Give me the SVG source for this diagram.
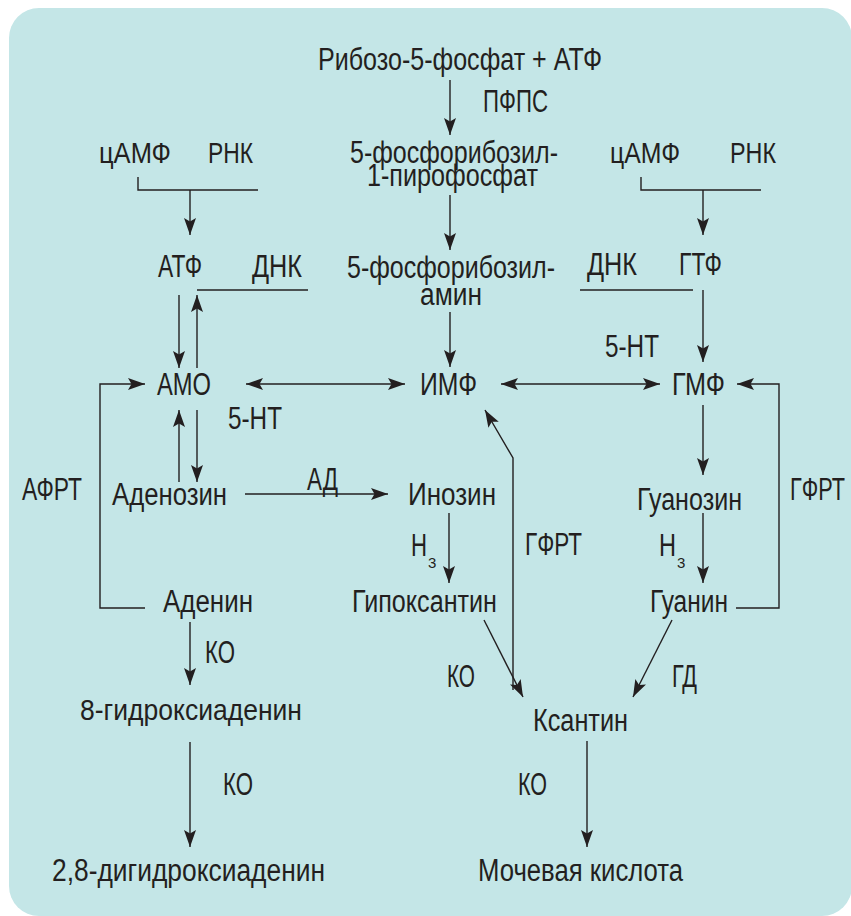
<svg xmlns="http://www.w3.org/2000/svg" width="851" height="916" viewBox="0 0 851 916">
<defs>
<style>
text{font-family:"Liberation Sans",Arial,sans-serif;font-size:31px;fill:#231f20}
.s{font-size:29px}
.sub{font-size:15px}
.c{stroke:#231f20;stroke-width:1.4;fill:none}
</style>
<marker id="ah" viewBox="0 0 17 12" refX="17" refY="6" markerWidth="17" markerHeight="12" orient="auto-start-reverse" markerUnits="userSpaceOnUse"><path d="M0,0 L17,6 L0,12 L3.5,6 z" fill="#231f20"/></marker>
</defs>
<rect x="9" y="8" width="843" height="908" rx="30" fill="#c4e6e7"/>
<g id="connectors">
<line class="c" x1="450" y1="80" x2="450" y2="135" marker-end="url(#ah)"/>
<line class="c" x1="450" y1="195" x2="450" y2="250" marker-end="url(#ah)"/>
<line class="c" x1="450" y1="312" x2="450" y2="367" marker-end="url(#ah)"/>
<path class="c" d="M138,177 V190 H258"/>
<line class="c" x1="190" y1="190" x2="190" y2="235" marker-end="url(#ah)"/>
<path class="c" d="M641,177 V190 H761"/>
<line class="c" x1="703" y1="190" x2="703" y2="235" marker-end="url(#ah)"/>
<line class="c" x1="179" y1="295" x2="179" y2="368" marker-end="url(#ah)"/>
<line class="c" x1="197" y1="368" x2="197" y2="295" marker-end="url(#ah)"/>
<line class="c" x1="197" y1="290" x2="308" y2="290"/>
<line class="c" x1="580" y1="290" x2="693" y2="290"/>
<line class="c" x1="703" y1="290" x2="703" y2="362" marker-end="url(#ah)"/>
<line class="c" x1="246" y1="384" x2="405" y2="384" marker-start="url(#ah)" marker-end="url(#ah)"/>
<line class="c" x1="501" y1="384" x2="660" y2="384" marker-start="url(#ah)" marker-end="url(#ah)"/>
<path class="c" d="M145,608 H100 V384 H145" marker-end="url(#ah)"/>
<path class="c" d="M736,608 H779 V384 H737" marker-end="url(#ah)"/>
<line class="c" x1="197" y1="410" x2="197" y2="482" marker-end="url(#ah)"/>
<line class="c" x1="179" y1="482" x2="179" y2="410" marker-end="url(#ah)"/>
<line class="c" x1="245" y1="494" x2="388" y2="494" marker-end="url(#ah)"/>
<line class="c" x1="449" y1="513" x2="449" y2="583" marker-end="url(#ah)"/>
<path class="c" d="M513,690 V458 L485,410" marker-end="url(#ah)"/>
<line class="c" x1="484" y1="620" x2="523" y2="697" marker-end="url(#ah)"/>
<line class="c" x1="703" y1="405" x2="703" y2="475" marker-end="url(#ah)"/>
<line class="c" x1="703" y1="513" x2="703" y2="583" marker-end="url(#ah)"/>
<line class="c" x1="672" y1="620" x2="633" y2="697" marker-end="url(#ah)"/>
<line class="c" x1="587" y1="741" x2="587" y2="847" marker-end="url(#ah)"/>
<line class="c" x1="190" y1="622" x2="190" y2="685" marker-end="url(#ah)"/>
<line class="c" x1="190" y1="742" x2="190" y2="847" marker-end="url(#ah)"/>
</g>
<g id="n-ribose"><text x="318" y="70" textLength="284" lengthAdjust="spacingAndGlyphs">Рибозо-5-фосфат + АТФ</text></g>
<g id="l-pfps"><text x="483" y="112" textLength="65" lengthAdjust="spacingAndGlyphs">ПФПС</text></g>
<g id="n-camp-l"><text class="s" x="99" y="163" textLength="72" lengthAdjust="spacingAndGlyphs">цАМФ</text></g>
<g id="n-rna-l"><text class="s" x="208" y="163" textLength="45" lengthAdjust="spacingAndGlyphs">РНК</text></g>
<g id="n-prpp"><text x="350" y="163" textLength="208" lengthAdjust="spacingAndGlyphs">5-фосфорибозил-</text><text x="367" y="186" textLength="171" lengthAdjust="spacingAndGlyphs">1-пирофосфат</text></g>
<g id="n-camp-r"><text class="s" x="610" y="163" textLength="70" lengthAdjust="spacingAndGlyphs">цАМФ</text></g>
<g id="n-rna-r"><text class="s" x="730" y="163" textLength="46" lengthAdjust="spacingAndGlyphs">РНК</text></g>
<g id="n-atp"><text x="158" y="277" textLength="44" lengthAdjust="spacingAndGlyphs">АТФ</text></g>
<g id="n-dna-l"><text x="252" y="277" textLength="50" lengthAdjust="spacingAndGlyphs">ДНК</text></g>
<g id="n-pra"><text x="347" y="278" textLength="208" lengthAdjust="spacingAndGlyphs">5-фосфорибозил-</text><text x="420" y="305" textLength="62" lengthAdjust="spacingAndGlyphs">амин</text></g>
<g id="n-dna-r"><text x="587" y="275" textLength="50" lengthAdjust="spacingAndGlyphs">ДНК</text></g>
<g id="n-gtp"><text x="679" y="275" textLength="43" lengthAdjust="spacingAndGlyphs">ГТФ</text></g>
<g id="l-5nt-r"><text x="605" y="357" textLength="54" lengthAdjust="spacingAndGlyphs">5-НТ</text></g>
<g id="n-amp"><text x="157" y="395" textLength="54" lengthAdjust="spacingAndGlyphs">АМО</text></g>
<g id="n-imp"><text x="420" y="395" textLength="57" lengthAdjust="spacingAndGlyphs">ИМФ</text></g>
<g id="n-gmp"><text x="672" y="395" textLength="53" lengthAdjust="spacingAndGlyphs">ГМФ</text></g>
<g id="l-5nt-l"><text x="228" y="429" textLength="54" lengthAdjust="spacingAndGlyphs">5-НТ</text></g>
<g id="l-afrt"><text x="22" y="500" textLength="60" lengthAdjust="spacingAndGlyphs">АФРТ</text></g>
<g id="n-adenosine"><text x="112" y="505" textLength="115" lengthAdjust="spacingAndGlyphs">Аденозин</text></g>
<g id="l-ad"><text x="307" y="490" textLength="31" lengthAdjust="spacingAndGlyphs">АД</text></g>
<g id="n-inosine"><text x="408" y="505" textLength="88" lengthAdjust="spacingAndGlyphs">Инозин</text></g>
<g id="l-gfrt-m"><text x="525" y="555" textLength="57" lengthAdjust="spacingAndGlyphs">ГФРТ</text></g>
<g id="l-h3-l"><text x="411" y="556" textLength="16" lengthAdjust="spacingAndGlyphs">Н</text><text class="sub" x="428" y="568">3</text></g>
<g id="n-guanosine"><text x="637" y="510" textLength="105" lengthAdjust="spacingAndGlyphs">Гуанозин</text></g>
<g id="l-gfrt-r"><text x="790" y="500" textLength="55" lengthAdjust="spacingAndGlyphs">ГФРТ</text></g>
<g id="l-h3-r"><text x="659" y="556" textLength="17" lengthAdjust="spacingAndGlyphs">Н</text><text class="sub" x="677" y="568">3</text></g>
<g id="n-hypoxanthine"><text x="352" y="612" textLength="145" lengthAdjust="spacingAndGlyphs">Гипоксантин</text></g>
<g id="n-adenine"><text x="163" y="612" textLength="90" lengthAdjust="spacingAndGlyphs">Аденин</text></g>
<g id="n-guanine"><text x="650" y="612" textLength="78" lengthAdjust="spacingAndGlyphs">Гуанин</text></g>
<g id="l-ko-1"><text x="205" y="663" textLength="30" lengthAdjust="spacingAndGlyphs">КО</text></g>
<g id="l-ko-2"><text x="447" y="687" textLength="28" lengthAdjust="spacingAndGlyphs">КО</text></g>
<g id="l-gd"><text x="672" y="687" textLength="25" lengthAdjust="spacingAndGlyphs">ГД</text></g>
<g id="n-8oh"><text class="s" x="80" y="720" textLength="222" lengthAdjust="spacingAndGlyphs">8-гидроксиаденин</text></g>
<g id="n-xanthine"><text x="533" y="731" textLength="95" lengthAdjust="spacingAndGlyphs">Ксантин</text></g>
<g id="l-ko-3"><text x="223" y="795" textLength="30" lengthAdjust="spacingAndGlyphs">КО</text></g>
<g id="l-ko-4"><text x="518" y="795" textLength="29" lengthAdjust="spacingAndGlyphs">КО</text></g>
<g id="n-28doh"><text x="52" y="881" textLength="273" lengthAdjust="spacingAndGlyphs">2,8-дигидроксиаденин</text></g>
<g id="n-uric"><text x="478" y="881" textLength="205" lengthAdjust="spacingAndGlyphs">Мочевая кислота</text></g>
</svg>
